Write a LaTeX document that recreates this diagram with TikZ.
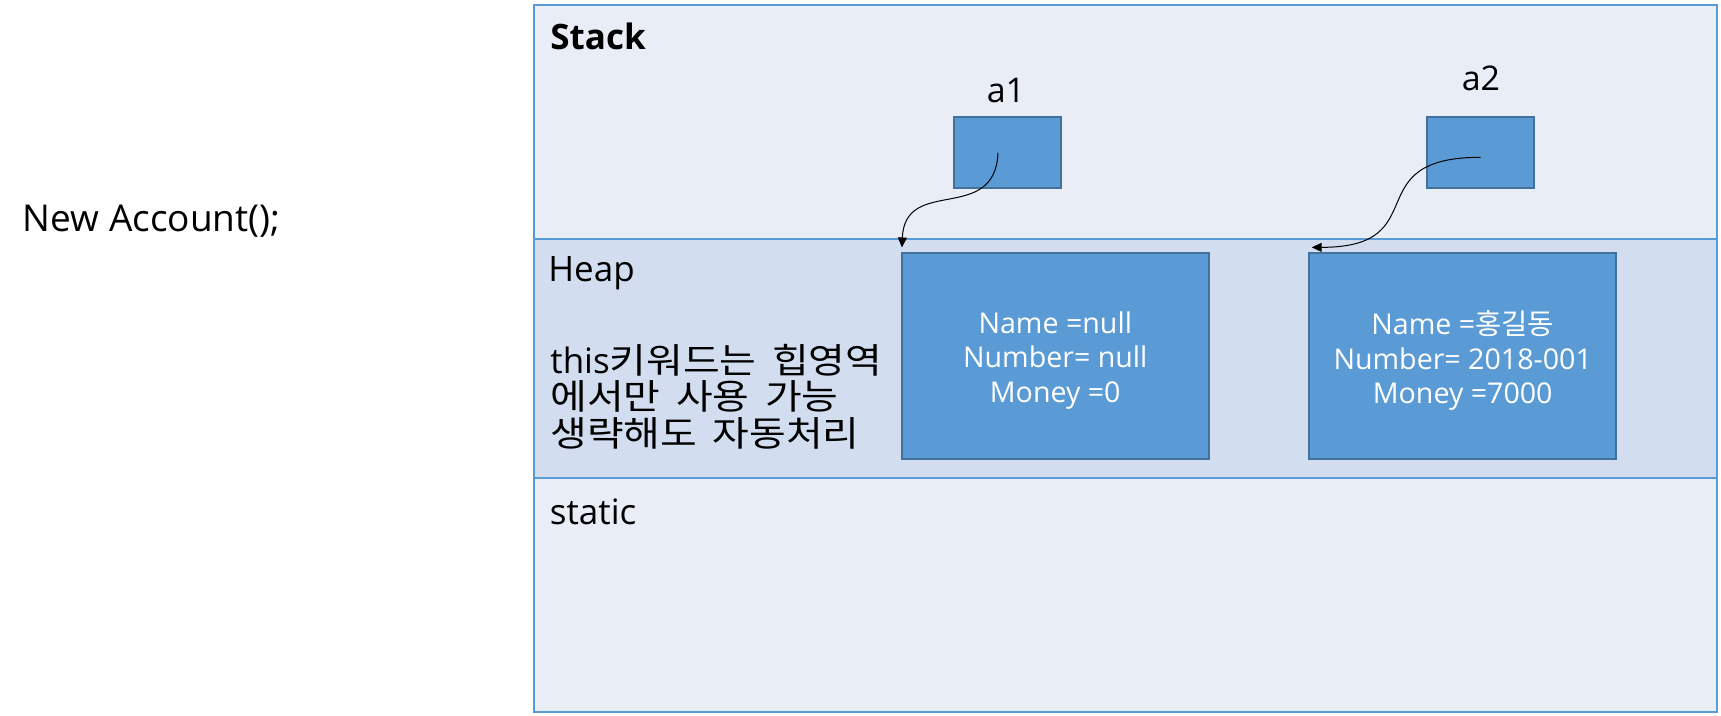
\documentclass[tikz,border=0pt]{standalone}
\usepackage{fontspec}
\setmainfont{Open Sans}
\newfontfamily\kr{Noto Sans CJK KR}[WordSpace=1.6]
\newfontfamily\krnote{Noto Sans CJK KR}[FakeStretch=1.14,WordSpace=1.75]
\usetikzlibrary{arrows.meta}
\definecolor{stackfill}{HTML}{E9EDF6}
\definecolor{heapfill}{HTML}{D2DEEF}
\definecolor{regionline}{HTML}{5B9BD5}
\definecolor{boxfill}{HTML}{5B9BD5}
\definecolor{boxline}{HTML}{41719C}
\begin{document}
\begin{tikzpicture}[x=0.5pt,y=-0.5pt,
  region/.style={draw=regionline,line width=1pt,inner sep=0,outer sep=0,minimum width=591.5pt},
  refbox/.style={draw=boxline,fill=boxfill,line width=1pt,minimum width=53.5pt,minimum height=35.5pt,inner sep=0},
  membox/.style={draw=boxline,fill=boxfill,line width=1pt,minimum width=153.5pt,minimum height=103pt,inner sep=0},
  memtext/.style={text=white,align=center,font=\fontsize{14.3}{17.1}\selectfont,inner sep=0},
  lbl/.style={inner sep=0,anchor=base west,font=\fontsize{17.5}{20}\selectfont},
  varlbl/.style={inner sep=0,anchor=base,font=\fontsize{17}{20}\selectfont},
  ptr/.style={line width=0.5pt,-{Triangle[length=5pt,width=4.5pt]}}
]
\useasboundingbox (0,0) rectangle (1721,716);
\fill[white] (0,0) rectangle (1721,716);
% regions
\node[region,fill=stackfill,minimum height=117pt] (stack) at (1125.5,122) {};
\node[region,fill=heapfill,minimum height=119.5pt] (heap) at (1125.5,358.5) {};
\node[region,fill=stackfill,minimum height=117pt] (static) at (1125.5,595.5) {};
% region labels
\node[lbl,font=\bfseries\fontsize{17.5}{20}\selectfont] (stacklbl) at (550,50) {Stack};
\node[lbl] (heaplbl) at (548,282) {Heap};
\node[inner sep=0,anchor=north west,align=left,font=\fontsize{17.5}{18.2}\selectfont] (note) at (550,344)
  {this{\krnote 키워드는 힙영역}\\{\krnote 에서만 사용 가능}\\{\krnote 생략해도 자동처리}};
\node[lbl] (staticlbl) at (549.5,525) {static};
\node[lbl,font=\fontsize{18.5}{22}\selectfont] (newacc) at (22.5,232) {New Account();};
% reference variables
\node[refbox] (a1) at (1007.5,152.8) {};
\node[refbox] (a2) at (1480.5,152.8) {};
\node[varlbl] (a1lbl) at (1006,103) {a1};
\node[varlbl] (a2lbl) at (1481,91) {a2};
% heap objects
\node[membox] (h1) at (1055.25,355.85) {};
\node[membox] (h2) at (1462.7,355.85) {};
\node[memtext] (h1t) at ([yshift=-2.3pt]h1.center) {Name =null\\Number= null\\Money =0};
\node[memtext] (h2t) at ([yshift=-2.3pt]h2.center) {Name ={\kr 홍길동}\\Number= 2018-001\\Money =7000};
% pointers
\draw[ptr] ([xshift=-4.75pt]a1.center) .. controls +(-3,72) and +(3,-72) .. ([shift={(0.6pt,2.2pt)}]h1.north west);
\draw[ptr] ([yshift=-2.25pt]a2.center) .. controls +(-125,0) and +(125,0) .. ([shift={(1.75pt,2.25pt)}]h2.north west);
\end{tikzpicture}
\end{document}
